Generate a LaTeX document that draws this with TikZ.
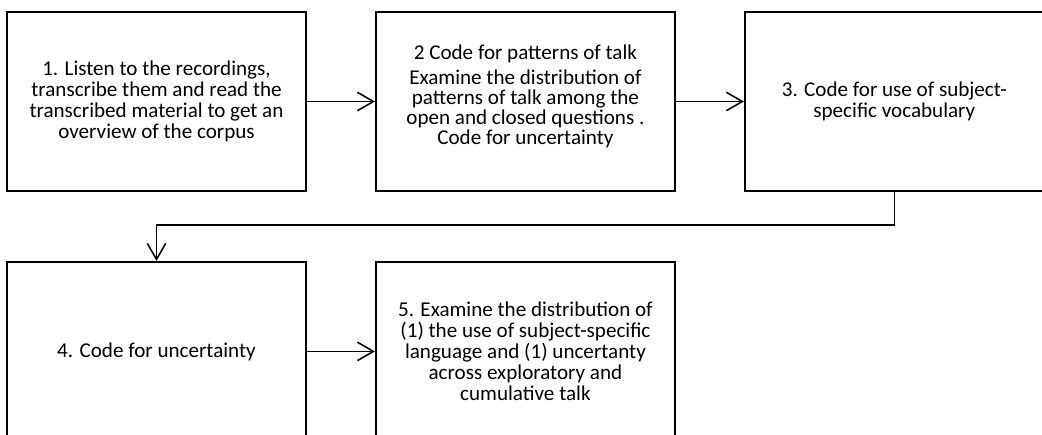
\documentclass[tikz,border=0pt]{standalone}
\usepackage{fontspec}
\setmainfont{Carlito}
\usepackage{tikz}
\usetikzlibrary{arrows.meta}
\usetikzlibrary{positioning}

\begin{document}
\begin{tikzpicture}[x=0.025cm, y=-0.025cm,
                    flow/.style={line width=1.1pt, -{Straight Barb[length=0.4cm, width=0.46cm, line width=1.1pt]}}]
                    \tikzstyle{stage}=[draw, rectangle, line width=1.3pt,
                        minimum width=7.475cm, minimum height=4.475cm,
                        align=center, font=\fontsize{15}{15}\selectfont]
                    \useasboundingbox (0,0) rectangle (1042,435);
                    % first row
                    \node[stage] (S1) at (156.5,101.5)
                        {1. Listen to the recordings,\\ transcribe them and read the\\ transcribed material to get an\\ overview of the corpus};
                    \node[stage, right=1.7cm of S1, font=\fontsize{15}{14.2}\selectfont] (S2)
                        {2 Code for patterns of talk\\[3.5pt] Examine the distribution of\\ patterns of talk among the\\ open and closed questions .\\ Code for uncertainty\\[-4pt]};
                    \node[stage, right=1.7cm of S2] (S3)
                        {3. Code for use of subject-\\ specific vocabulary};
                    % second row
                    \node[stage, below=1.725cm of S1] (S4)
                        {4. Code for uncertainty};
                    \node[stage, right=1.7cm of S4] (S5)
                        {5. Examine the distribution of\\ (1) the use of subject-specific\\ language and (1) uncertanty\\ across exploratory and\\ cumulative talk};
                    \draw[flow] (S1) -- (S2);
                    \draw[flow] (S2) -- (S3);
                    \draw[flow] (S3.south) -- ++(0,-0.825cm) -| (S4.north);
                    \draw[flow] (S4) -- (S5);
                \end{tikzpicture}
\end{document}
